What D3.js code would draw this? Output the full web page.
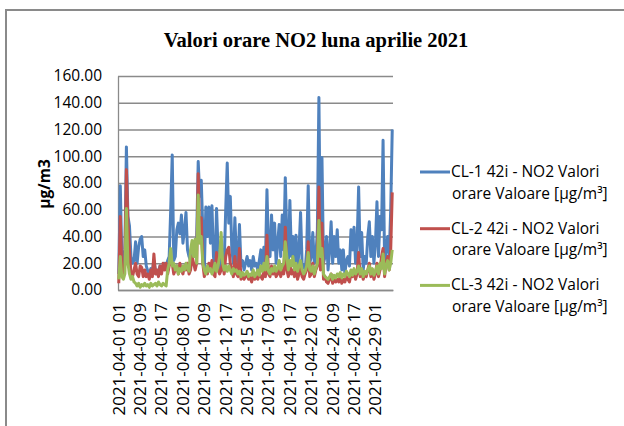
<!DOCTYPE html>
<html>
<head>
<meta charset="utf-8">
<script src="https://cdn.jsdelivr.net/npm/d3@7"></script>
<style>
  body { margin: 0; background: #fff; }
  svg { display: block; }
</style>
</head>
<body>
<div id="vis"></div>
<script>
var width = 624
var height = 426

var cl1 = [
  12, 78, 25, 20, 30, 107,
  55, 48, 25, 20, 22, 36,
  20, 32, 38, 40, 25, 30,
  18, 14, 12, 16, 14, 22,
  15, 12, 14, 18, 16, 18,
  20, 18, 22, 25, 60, 101,
  22, 25, 45, 50, 42, 56,
  35, 45, 58, 30, 25, 22,
  30, 35, 25, 40, 96, 70,
  82, 45, 15, 62, 40, 62,
  35, 63, 25, 15, 61, 30,
  15, 25, 30, 20, 60, 95,
  50, 70, 30, 20, 54, 25,
  20, 49, 18, 22, 15, 20,
  25, 18, 22, 15, 25, 18,
  20, 15, 22, 30, 18, 32,
  20, 75, 30, 25, 56, 30,
  50, 20, 35, 49, 25, 56,
  30, 84, 40, 20, 67, 25,
  40, 20, 41, 15, 30, 58,
  20, 18, 15, 30, 78, 20,
  25, 43, 20, 25, 45, 144,
  30, 99, 20, 25, 40, 15,
  30, 51, 20, 40, 25, 45,
  20, 30, 15, 30, 12, 22,
  25, 18, 45, 30, 47, 20,
  35, 77, 25, 43, 15, 25,
  20, 40, 51, 25, 40, 20,
  35, 66, 25, 55, 45, 112,
  20, 30, 40, 25, 60, 120
]

var cl2 = [
  5, 55, 15, 10, 20, 90,
  51, 30, 12, 10, 15, 20,
  12, 10, 18, 17, 10, 15,
  10, 12, 8, 15, 10, 27,
  12, 15, 10, 18, 12, 20,
  15, 20, 12, 18, 21, 20,
  12, 15, 18, 12, 20, 15,
  12, 18, 15, 20, 12, 15,
  25, 20, 15, 20, 87, 40,
  54, 20, 10, 15, 12, 20,
  15, 22, 12, 10, 28, 15,
  12, 15, 20, 12, 25, 30,
  32, 20, 15, 10, 25, 12,
  10, 31, 8, 12, 8, 10,
  12, 8, 10, 6, 12, 8,
  10, 8, 12, 10, 8, 15,
  10, 41, 12, 10, 18, 12,
  15, 10, 12, 18, 10, 15,
  12, 47, 15, 10, 20, 12,
  15, 10, 18, 8, 12, 20,
  10, 8, 12, 15, 36, 10,
  12, 20, 10, 15, 18, 77,
  15, 50, 8, 10, 6, 5,
  8, 12, 5, 10, 6, 8,
  6, 10, 5, 8, 6, 10,
  8, 6, 12, 10, 15, 8,
  12, 28, 10, 15, 8, 12,
  10, 15, 20, 10, 15, 8,
  12, 20, 10, 15, 25, 31,
  10, 20, 25, 15, 30, 73
]

var cl3 = [
  8, 25, 10, 8, 12, 61,
  20, 12, 8, 10, 6, 5,
  3, 5, 2, 4, 3, 5,
  3, 4, 2, 5, 3, 4,
  5, 3, 6, 4, 3, 5,
  4, 3, 15, 20, 31, 18,
  20, 15, 18, 12, 16, 14,
  18, 15, 20, 16, 14, 30,
  37, 25, 38, 20, 71, 35,
  40, 20, 15, 12, 18, 14,
  16, 12, 15, 20, 14, 18,
  25, 43, 20, 15, 18, 14,
  18, 15, 12, 16, 14, 15,
  12, 14, 10, 13, 11, 12,
  14, 10, 12, 11, 15, 10,
  12, 15, 11, 18, 14, 20,
  15, 25, 14, 12, 16, 14,
  18, 14, 16, 22, 15, 18,
  20, 36, 25, 15, 22, 18,
  25, 15, 20, 14, 18, 22,
  15, 12, 14, 18, 28, 15,
  14, 18, 12, 16, 20, 52,
  25, 31, 12, 10, 9, 8,
  10, 12, 8, 11, 9, 12,
  10, 13, 9, 12, 10, 14,
  12, 10, 15, 11, 16, 12,
  14, 18, 12, 16, 10, 14,
  12, 15, 18, 12, 16, 11,
  14, 18, 12, 20, 16, 27,
  12, 18, 22, 15, 20, 30
]

var tickHours = [0, 56, 112, 168, 224, 280, 336, 392, 448, 504, 560, 616, 672]
var tickLabels = ["2021-04-01 01", "2021-04-03 09", "2021-04-05 17", "2021-04-08 01",
  "2021-04-10 09", "2021-04-12 17", "2021-04-15 01", "2021-04-17 09", "2021-04-19 17",
  "2021-04-22 01", "2021-04-24 09", "2021-04-26 17", "2021-04-29 01"]
var yTicks = [0, 20, 40, 60, 80, 100, 120, 140, 160]

var seriesNames = ["CL-1 42i - NO2 Valori", "CL-2 42i - NO2 Valori", "CL-3 42i - NO2 Valori"]
var seriesUnit = "orare Valoare [µg/m³]"
var colors = ["#4F81BD", "#C0504D", "#9BBB59"]
var series = [cl1, cl2, cl3]

var font = "'Open Sans', sans-serif"

var svg = d3.select("#vis")
  .append("svg")
  .attr("width", width)
  .attr("height", height)

// chart frame (runs off the picture at right and bottom)
svg.append("rect")
  .attr("x", 6).attr("y", 10)
  .attr("width", 700).attr("height", 500)
  .attr("fill", "none")
  .attr("stroke", "#8a8a8a")
  .attr("stroke-width", 2)

var x = d3.scaleLinear().domain([0, 720]).range([118, 393])
var y = d3.scaleLinear().domain([0, 160]).range([290, 76])

//y axis + gridlines
var yAxis = svg.append("g")
  .attr("transform", "translate(118,0)")
  .call(d3.axisLeft(y)
    .tickValues(yTicks)
    .tickSize(-(393 - 118))
    .tickSizeOuter(0)
    .tickPadding(16)
    .tickFormat(d3.format(".2f")))
yAxis.select(".domain").attr("stroke", "#8a8a8a").attr("stroke-width", 1.3)
yAxis.selectAll(".tick line").attr("stroke", "#8a8a8a").attr("stroke-width", 1.3)
yAxis.selectAll("text")
  .style("font-family", font)
  .style("font-size", "15.5px")
  .attr("fill", "#000")

//x axis
var xAxis = svg.append("g")
  .attr("transform", "translate(0,290)")
  .call(d3.axisBottom(x)
    .tickValues(tickHours.map(h => h + 0.5))
    .tickSize(0)
    .tickSizeOuter(0)
    .tickFormat((d, i) => tickLabels[i]))
xAxis.select(".domain").attr("stroke", "#8a8a8a").attr("stroke-width", 1.3)
xAxis.selectAll("text")
  .attr("transform", "rotate(-90)")
  .attr("text-anchor", "end")
  .attr("x", -13)
  .attr("y", 0)
  .attr("dy", "0.35em")
  .style("font-family", font)
  .style("font-size", "17px")
  .attr("fill", "#000")

//lines
var line = d3.line()
  .x((d, i) => x(i * 4 + 2))
  .y(d => y(d))

svg.append("g")
  .selectAll("path")
  .data(series)
  .enter().append("path")
    .attr("d", line)
    .attr("fill", "none")
    .attr("stroke", (d, i) => colors[i])
    .attr("stroke-width", 3)
    .attr("stroke-linejoin", "round")

//title
svg.append("text")
  .attr("x", 316)
  .attr("y", 47)
  .attr("text-anchor", "middle")
  .style("font-family", "'Liberation Serif', 'Times New Roman', serif")
  .style("font-weight", "bold")
  .style("font-size", "20.5px")
  .text("Valori orare NO2 luna aprilie 2021")

//y title
svg.append("text")
  .attr("transform", "translate(50,184) rotate(-90)")
  .attr("text-anchor", "middle")
  .style("font-family", font)
  .style("font-weight", "bold")
  .style("font-size", "15.5px")
  .text("µg/m3")

//legend
var legend = svg.append("g")
  .selectAll("g")
  .data(seriesNames)
  .enter().append("g")
    .attr("transform", (d, i) => `translate(0,${172 + i * 56.7})`)

legend.append("line")
  .attr("x1", 420).attr("x2", 450)
  .attr("y1", 0).attr("y2", 0)
  .attr("stroke", (d, i) => colors[i])
  .attr("stroke-width", 3)

legend.append("text")
  .attr("x", 451)
  .attr("y", 5)
  .style("font-family", font)
  .style("font-size", "15.5px")
  .text(d => d)

legend.append("text")
  .attr("x", 452)
  .attr("y", 26.5)
  .style("font-family", font)
  .style("font-size", "15.5px")
  .text(seriesUnit)
</script>
</body>
</html>
